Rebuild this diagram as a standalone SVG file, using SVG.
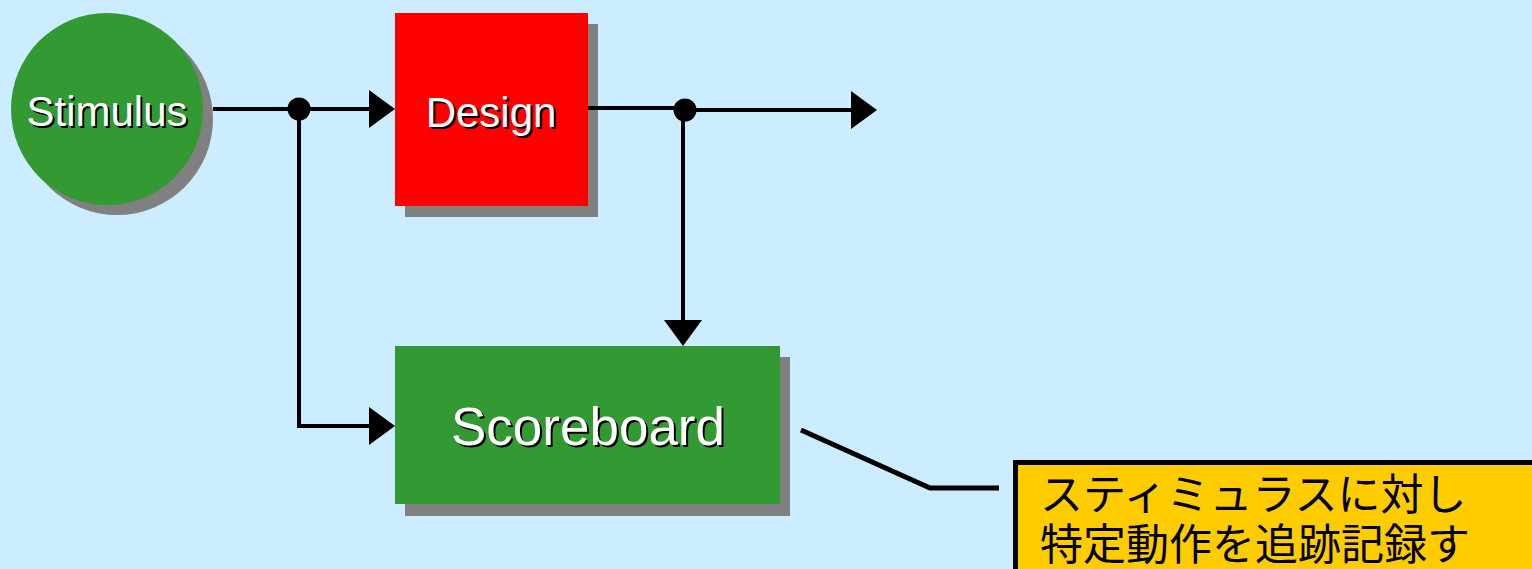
<svg xmlns="http://www.w3.org/2000/svg" width="1532" height="569" viewBox="0 0 1532 569">
  <defs>
    <!-- arrowhead starts where the wire stops, so the line never pokes past the tip -->
    <marker id="arrow" viewBox="0 0 26 38" refX="0" refY="19" markerWidth="26" markerHeight="38" markerUnits="userSpaceOnUse" orient="auto">
      <path d="M0,0 L26,19 L0,38 Z" fill="#000"/>
    </marker>
    <style>
      .shadow { fill: #808080; }
      .wire { fill: none; stroke: #000; stroke-width: 4; }
      .lbl { font-family: "Liberation Sans", Arial, sans-serif; text-anchor: middle; }
      .lbl .back { fill: #000; }
      .lbl .front { fill: #fff; }
      .note { font-family: "Noto Sans CJK JP", sans-serif; font-size: 43px; fill: #000; }
    </style>
  </defs>

  <rect width="1532" height="569" fill="#CCECFF"/>

  <!-- Stimulus source -->
  <g id="stimulus">
    <circle class="shadow" cx="117" cy="119" r="96"/>
    <circle cx="107" cy="109" r="96" fill="#339933"/>
    <g class="lbl" font-size="42">
      <text class="back" x="109" y="128">Stimulus</text>
      <text class="front" x="107" y="126">Stimulus</text>
    </g>
  </g>

  <!-- Design under test -->
  <g id="design">
    <rect class="shadow" x="405" y="24" width="193" height="193"/>
    <rect x="395" y="13" width="193" height="193" fill="#FF0000"/>
    <g class="lbl" font-size="42">
      <text class="back" x="493" y="129">Design</text>
      <text class="front" x="491" y="127">Design</text>
    </g>
  </g>

  <!-- Scoreboard -->
  <g id="scoreboard">
    <rect class="shadow" x="405" y="357" width="385" height="159"/>
    <rect x="395" y="346" width="385" height="158" fill="#339933"/>
    <g class="lbl" font-size="53">
      <text class="back" x="590" y="447">Scoreboard</text>
      <text class="front" x="588" y="445">Scoreboard</text>
    </g>
  </g>

  <!-- Callout note -->
  <g id="note">
    <rect x="1015.5" y="462.5" width="530" height="120" fill="#FFCC00" stroke="#000" stroke-width="5"/>
    <text class="note" x="1040" y="510">スティミュラスに対し</text>
    <text class="note" x="1040" y="560">特定動作を追跡記録す</text>
  </g>

  <!-- Connectors -->
  <g id="connectors">
    <path class="wire" d="M213,109 H369" marker-end="url(#arrow)"/>
    <path class="wire" d="M299,109 V426 H369" marker-end="url(#arrow)"/>
    <circle cx="299" cy="109" r="11.5" fill="#000"/>
    <path class="wire" d="M588,108 H685"/>
    <path class="wire" d="M685,110 H851" marker-end="url(#arrow)"/>
    <path class="wire" d="M683,110 V320" marker-end="url(#arrow)"/>
    <circle cx="685" cy="110" r="11.5" fill="#000"/>
    <path d="M801,430 L930,488 H999" fill="none" stroke="#000" stroke-width="5"/>
  </g>
</svg>
